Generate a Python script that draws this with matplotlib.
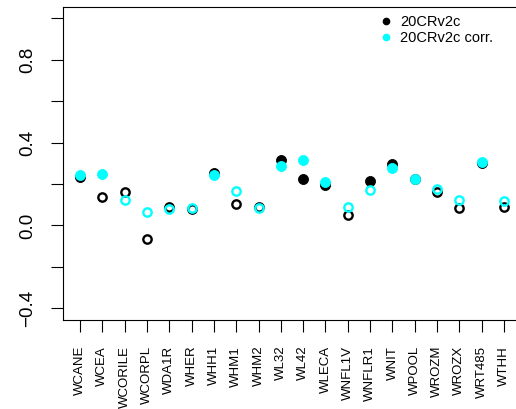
import matplotlib.pyplot as plt
import numpy as np
from matplotlib.lines import Line2D

stations = ["WCANE", "WCEA", "WCORILE", "WCORPL", "WDA1R", "WHER", "WHH1", "WHM1",
            "WHM2", "WL32", "WL42", "WLECA", "WNFL1V", "WNFLR1", "WNIT", "WPOOL",
            "WROZM", "WROZX", "WRT485", "WTHH"]
raw = [0.233, 0.138, 0.162, -0.064, 0.090, 0.080, 0.254, 0.104, 0.090, 0.318,
       0.225, 0.194, 0.050, 0.214, 0.296, 0.222, 0.162, 0.082, 0.300, 0.090]
corr = [0.241, 0.246, 0.125, 0.063, 0.077, 0.083, 0.241, 0.167, 0.083, 0.289,
        0.315, 0.210, 0.087, 0.170, 0.276, 0.225, 0.177, 0.125, 0.307, 0.117]
# filled symbol = significant
raw_sig = [1, 0, 0, 0, 0, 0, 1, 0, 0, 1, 1, 1, 0, 1, 1, 1, 0, 0, 1, 0]
corr_sig = [1, 1, 0, 0, 0, 0, 1, 0, 0, 1, 1, 1, 0, 0, 1, 1, 0, 0, 1, 0]
yticks = [-0.4, -0.2, 0.0, 0.2, 0.4, 0.6, 0.8, 1.0]
ylabels = ["-0.4", "", "0.0", "", "0.4", "", "0.8", ""]

plt.rcParams["font.family"] = ["Liberation Sans", "DejaVu Sans"]


def draw(ax, x, y, sig, col):
    y = np.asarray(y)
    sig = np.asarray(sig, dtype=bool)
    ax.plot(x[sig], y[sig], "o", color=col, ms=7.2, mec=col, mew=0.6, ls="none")
    ax.plot(x[~sig], y[~sig], "o", mfc="none", mec=col, ms=6.0, mew=1.7, ls="none")


def main() -> None:
    x = np.arange(1, len(stations) + 1)
    fig = plt.figure(figsize=(5.16, 4.09), dpi=100)
    ax = fig.add_axes([63 / 516, 1 - 320 / 409, 458 / 516, 313.5 / 409])

    draw(ax, x, raw, raw_sig, "black")
    draw(ax, x, corr, corr_sig, "#00FFFF")

    ax.set_xlim(0.24, 20.76)
    ax.set_ylim(-0.456, 1.056)
    ax.set_xticks(x)
    ax.set_xticklabels(stations, rotation=90, fontsize=9.5)
    ax.set_yticks(yticks)
    ax.set_yticklabels([s.replace("-", "\u2212") for s in ylabels], rotation=90,
                       va="center", fontsize=13.5)
    ax.tick_params(axis="x", direction="out", length=8.6, width=0.8, pad=10)
    ax.tick_params(axis="y", direction="out", length=8.6, width=0.8, pad=11)
    for side in ["left", "bottom", "top", "right"]:
        ax.spines[side].set_linewidth(0.8)

    handles = [
        Line2D([], [], marker="o", ls="none", color="black", ms=4.5),
        Line2D([], [], marker="o", ls="none", color="#00FFFF", ms=4.5),
    ]
    fig.legend(handles, ["20CRv2c", "20CRv2c corr."], loc="upper left",
               bbox_to_anchor=(380.5 / 516, 1 - 15.5 / 409), frameon=False,
               fontsize=10.5, handlelength=0.8, handletextpad=0.55,
               labelspacing=0.12, borderpad=0, borderaxespad=0)

    fig.savefig("out.png", dpi=100)


if __name__ == "__main__":
    main()
